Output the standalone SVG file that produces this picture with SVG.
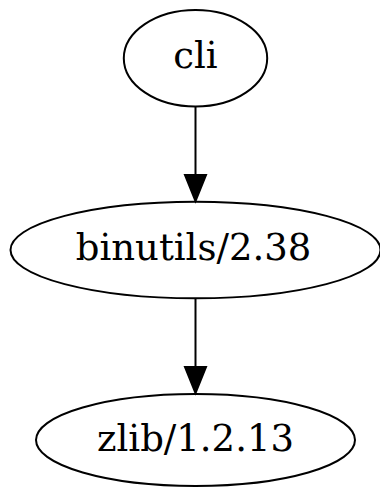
<svg xmlns="http://www.w3.org/2000/svg" width="380" height="487" viewBox="0 0 380 487">
<style>
.node ellipse{fill:none;stroke:#000;stroke-width:2}
.node text{font-family:"DejaVu Serif",serif;font-size:37px;text-anchor:middle;fill:#000}
.edge line{stroke:#000;stroke-width:2}
.edge polygon{fill:#000;stroke:#000;stroke-width:2}
</style>
<rect width="380" height="487" fill="#fff"/>
<g id="connectors">
<g class="edge"><line x1="195.5" y1="107" x2="195.5" y2="175"/><polygon points="185,175 206,175 195.5,201"/></g>
<g class="edge"><line x1="195.5" y1="298" x2="195.5" y2="367"/><polygon points="185,367 206,367 195.5,393"/></g>
</g>
<g id="cli" class="node"><ellipse cx="195.5" cy="58.3" rx="71.7" ry="48.3"/><text x="195.5" y="68">cli</text></g>
<g id="binutils" class="node"><ellipse cx="195.5" cy="250" rx="185" ry="48.3"/><text x="193.5" y="259.5">binutils/2.38</text></g>
<g id="zlib" class="node"><ellipse cx="195.5" cy="440" rx="159.5" ry="46"/><text x="195.5" y="451">zlib/1.2.13</text></g>
</svg>
